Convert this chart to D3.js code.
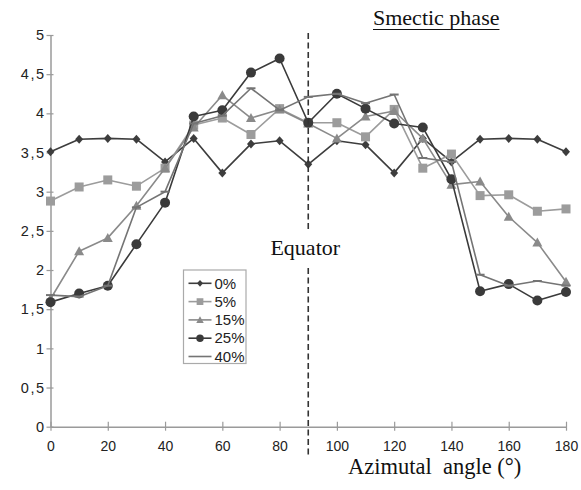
<!DOCTYPE html>
<html>
<head>
<meta charset="utf-8">
<script src="https://cdn.jsdelivr.net/npm/d3@7"></script>
<style>
  html, body { margin: 0; padding: 0; background: #fff; }
  svg { display: block; }
</style>
</head>
<body>
<svg id="chart" width="581" height="490"></svg>
<script>
// Azimuthal angle (degrees)
const angles = [0, 10, 20, 30, 40, 50, 60, 70, 80, 90, 100, 110, 120, 130, 140, 150, 160, 170, 180];

// Intensity profiles for each concentration
const series0  = [3.51, 3.67, 3.68, 3.67, 3.38, 3.68, 3.24, 3.61, 3.65, 3.35, 3.65, 3.60, 3.24, 3.68, 3.38, 3.67, 3.68, 3.67, 3.51];
const series5  = [2.88, 3.06, 3.15, 3.07, 3.30, 3.85, 3.94, 3.73, 4.06, 3.88, 3.88, 3.70, 4.05, 3.30, 3.48, 2.95, 2.96, 2.75, 2.78];
const series15 = [1.63, 2.24, 2.41, 2.82, 3.30, 3.82, 4.23, 3.94, 4.05, 3.87, 3.68, 3.96, 4.03, 3.68, 3.09, 3.13, 2.68, 2.35, 1.85];
const series25 = [1.59, 1.70, 1.80, 2.33, 2.86, 3.96, 4.04, 4.52, 4.70, 3.88, 4.25, 4.06, 3.87, 3.82, 3.16, 1.73, 1.82, 1.61, 1.72];
const series40 = [1.68, 1.66, 1.80, 2.80, 3.00, 3.87, 3.97, 4.32, 4.04, 4.21, 4.25, 4.13, 4.24, 3.43, 3.38, 1.94, 1.80, 1.86, 1.80];

const seriesNames = ["0%", "5%", "15%", "25%", "40%"];
const xTicks = [0, 20, 40, 60, 80, 100, 120, 140, 160, 180];
const yTicks = [0, 0.5, 1, 1.5, 2, 2.5, 3, 3.5, 4, 4.5, 5];
const equatorAngle = 90;

const seriesList = [
  { name: seriesNames[0], values: series0,  color: "#3d3d3d", marker: "diamond" },
  { name: seriesNames[1], values: series5,  color: "#9c9c9c", marker: "square" },
  { name: seriesNames[2], values: series15, color: "#8a8a8a", marker: "triangle" },
  { name: seriesNames[3], values: series25, color: "#3a3a3a", marker: "circle" },
  { name: seriesNames[4], values: series40, color: "#747474", marker: "dash" }
];

const svg = d3.select("#chart");
svg.append("rect").attr("width", 581).attr("height", 490).attr("fill", "#fff");

const x = d3.scaleLinear().domain([0, 180]).range([50.5, 566]);
const y = d3.scaleLinear().domain([0, 5]).range([426.7, 35]);

const axisColor = "#9a9a9a";
const labelColor = "#222";
const sansFont = "'Liberation Sans', Arial, sans-serif";
const serifFont = "'Liberation Serif', 'Times New Roman', serif";

// Y axis
const yAxis = svg.append("g")
  .attr("transform", `translate(${x(0)},0)`)
  .call(d3.axisLeft(y).tickValues(yTicks).tickSizeOuter(0).tickSizeInner(4).tickPadding(1)
    .tickFormat(d => String(d).replace(".", ",")));
yAxis.select(".domain").attr("stroke", axisColor).attr("stroke-width", 1.5);
yAxis.selectAll(".tick line").attr("stroke", axisColor).attr("stroke-width", 1.2).attr("x2", 3).attr("x1", -4);
yAxis.selectAll(".tick text").attr("fill", labelColor).attr("font-family", sansFont)
  .attr("font-size", 14.5).attr("letter-spacing", 1.5);

// X axis
const xAxis = svg.append("g")
  .attr("transform", `translate(0,${y(0)})`)
  .call(d3.axisBottom(x).tickValues(xTicks).tickSizeOuter(0).tickSizeInner(4).tickPadding(10));
xAxis.select(".domain").attr("stroke", axisColor).attr("stroke-width", 1.5);
xAxis.selectAll(".tick line").attr("stroke", axisColor).attr("stroke-width", 1.2).attr("y1", -5).attr("y2", 4);
xAxis.selectAll(".tick text").attr("fill", labelColor).attr("font-family", sansFont).attr("font-size", 14);

// Marker drawing helper
function drawMarker(g, type, cx, cy, color) {
  if (type === "circle") {
    g.append("circle").attr("cx", cx).attr("cy", cy).attr("r", 5).attr("fill", color);
  } else if (type === "square") {
    g.append("rect").attr("x", cx - 4.5).attr("y", cy - 4.5).attr("width", 9).attr("height", 9).attr("fill", color);
  } else if (type === "diamond") {
    g.append("path").attr("d", `M${cx},${cy - 4.5}L${cx + 4},${cy}L${cx},${cy + 4.5}L${cx - 4},${cy}Z`).attr("fill", color);
  } else if (type === "triangle") {
    g.append("path").attr("d", `M${cx},${cy - 5}L${cx + 5},${cy + 4}L${cx - 5},${cy + 4}Z`).attr("fill", color);
  } else if (type === "dash") {
    g.append("line").attr("x1", cx - 4.5).attr("x2", cx + 4.5).attr("y1", cy).attr("y2", cy)
      .attr("stroke", color).attr("stroke-width", 2);
  }
}

// Series lines and markers
const line = d3.line().x((d, i) => x(angles[i])).y(d => y(d));
seriesList.forEach(s => {
  const g = svg.append("g");
  g.append("path").datum(s.values).attr("d", line)
    .attr("fill", "none").attr("stroke", s.color).attr("stroke-width", 1.6).attr("stroke-linejoin", "round");
  s.values.forEach((v, i) => drawMarker(g, s.marker, x(angles[i]), y(v), s.color));
});

// Equator label and dashed reference line broken around it
const eqX = x(equatorAngle);
svg.append("text")
  .attr("x", eqX - 3).attr("y", 255)
  .attr("text-anchor", "middle")
  .attr("font-family", serifFont).attr("font-size", 22).attr("fill", "#111")
  .text("Equator");
const dashStyle = sel => sel.attr("stroke", "#333").attr("stroke-width", 1.6).attr("stroke-dasharray", "6,3.5");
svg.append("line").attr("x1", eqX).attr("x2", eqX).attr("y1", y(5) - 2).attr("y2", 232).call(dashStyle);
svg.append("line").attr("x1", eqX).attr("x2", eqX).attr("y1", 268).attr("y2", y(0) + 28).call(dashStyle);

// Phase title, underlined
const title = svg.append("text")
  .attr("x", 373).attr("y", 25)
  .attr("font-family", serifFont).attr("font-size", 22).attr("fill", "#111")
  .text("Smectic phase");
const tLen = title.node().getComputedTextLength();
svg.append("line").attr("x1", 373).attr("x2", 373 + tLen).attr("y1", 29.5).attr("y2", 29.5)
  .attr("stroke", "#111").attr("stroke-width", 1.2);

// X axis title
svg.append("text")
  .attr("x", 348).attr("y", 474)
  .attr("xml:space", "preserve").style("white-space", "pre")
  .attr("font-family", serifFont).attr("font-size", 22.5).attr("fill", "#111")
  .text("Azimutal  angle (°)");

// Legend
const legend = svg.append("g").attr("transform", "translate(183.5,270)");
legend.append("rect").attr("width", 62.5).attr("height", 93.5)
  .attr("fill", "#fff").attr("stroke", "#aaa").attr("stroke-width", 1.2);
seriesList.forEach((s, i) => {
  const ry = 13.3 + i * 18.3;
  legend.append("line").attr("x1", 5).attr("x2", 28).attr("y1", ry).attr("y2", ry)
    .attr("stroke", s.color).attr("stroke-width", 1.6);
  if (s.marker !== "dash") {
    const mg = legend.append("g");
    mg.attr("transform", `translate(${16.5},${ry}) scale(0.75)`);
    drawMarker(mg, s.marker, 0, 0, s.color);
  }
  legend.append("text").attr("x", 31).attr("y", ry + 5.2)
    .attr("font-family", sansFont).attr("font-size", 15).attr("fill", labelColor)
    .text(s.name);
});
</script>
</body>
</html>
